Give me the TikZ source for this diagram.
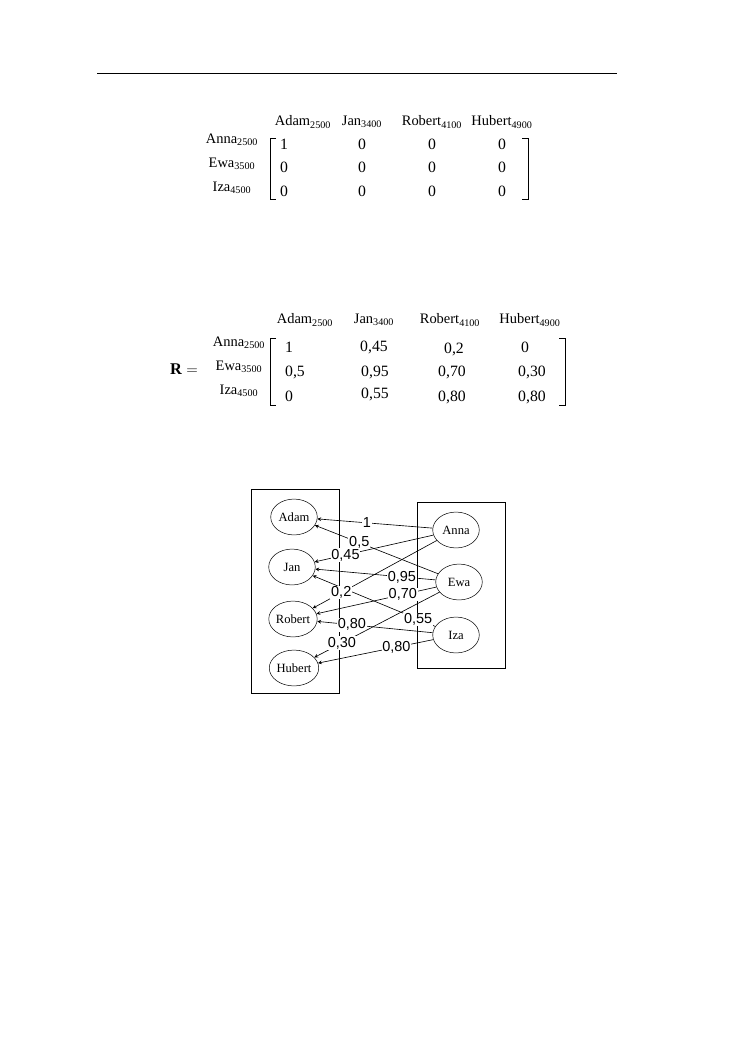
\documentclass[tikz,border=0pt]{standalone}
\usepackage{fontspec}
\setmainfont{Liberation Serif}
\newfontfamily\lblfont{Liberation Sans}
\usetikzlibrary{shapes.geometric,arrows.meta}
\newcommand{\nm}[2]{#1\textsubscript{#2}}
\tikzset{
  mlbl/.style={font=\fontsize{11.5}{13}\selectfont},
  cell/.style={font=\fontsize{12.5}{14}\selectfont},
  person/.style={draw,ellipse,minimum width=37pt,minimum height=28.5pt,inner sep=0pt,font=\fontsize{10}{12}\selectfont},
  edge/.style={{Stealth[length=3pt,width=3pt]}-,line width=0.5pt},
  wlbl/.style={fill=white,inner sep=0.6pt,font=\lblfont\fontsize{11.5}{12}\selectfont}
}
\begin{document}
\begin{tikzpicture}[x=0.7944pt,y=-0.7944pt]
  \useasboundingbox (0,0) rectangle (749,1064);
  \draw[line width=0.8pt] (97,73) -- (617,73);

  % First matrix: column and row labels
  \foreach \x/\n/\s in {303/Adam/2500,362/Jan/3400,432/Robert/4100,502/Hubert/4900}
    \node[mlbl] (ha-\n) at (\x,122) {\nm{\n}{\s}};
  \foreach \y/\n/\s in {140/Anna/2500,164/Ewa/3500,188/Iza/4500}
    \node[mlbl] (va-\n) at (232,\y) {\nm{\n}{\s}};

  % First matrix: cells
  \foreach \x/\y/\v in {
    284/144/1,362/144/0,432/144/0,502/144/0,
    284/167/0,362/167/0,432/167/0,502/167/0,
    284/191/0,362/191/0,432/191/0,502/191/0
  }{
    \node[cell] (a-\x-\y) at (\x,\y) {\v};
  }
  \draw (276,138) -- (270,138) -- (270,199) -- (276,199);
  \draw (522,138) -- (528,138) -- (528,199) -- (522,199);

  % Second matrix: column and row labels
  \foreach \x/\n/\s in {305/Adam/2500,374/Jan/3400,450/Robert/4100,530/Hubert/4900}
    \node[mlbl] (hb-\n) at (\x,320) {\nm{\n}{\s}};
  \foreach \y/\n/\s in {343/Anna/2500,367/Ewa/3500,391/Iza/4500}
    \node[mlbl] (vb-\n) at (239,\y) {\nm{\n}{\s}};
  \node[font=\fontsize{13}{15}\selectfont] (rlbl) at (184,369) {$\mathbf{R}=$};

  % Second matrix: cells
  \foreach \x/\y/\v in {
    289/347/1,374/347/{0,45},454/349/{0,2},525/347/0,
    295/372/{0,5},375/372/{0,95},452/372/{0,70},532/372/{0,30},
    289/396/0,375/394/{0,55},452/397/{0,80},532/397/{0,80}
  }{
    \node[cell] (b-\x-\y) at (\x,\y) {\v};
  }
  \draw (276,338) -- (270,338) -- (270,405) -- (276,405);
  \draw (559,338) -- (565,338) -- (565,405) -- (559,405);

  % Graph: the two groups
  \draw (251,489) rectangle (339,693);
  \draw (417,502) rectangle (505,668);
  \node[person] (adam)   at (294,517) {Adam};
  \node[person] (jan)    at (292,567) {Jan};
  \node[person] (robert) at (293,619) {Robert};
  \node[person] (hubert) at (294,668) {Hubert};
  \node[person] (anna)   at (456,530) {Anna};
  \node[person] (ewa)    at (459,582) {Ewa};
  \node[person] (iza)    at (456,635) {Iza};

  % Graph: weighted links
  \foreach \m/\w/\v/\p in {
    adam/anna/1/0.43, adam/ewa/{0,5}/0.36,
    jan/anna/{0,45}/0.26, jan/ewa/{0,95}/0.72, jan/iza/{0,55}/0.86,
    robert/anna/{0,2}/0.23, robert/ewa/{0,70}/0.72, robert/iza/{0,80}/0.3,
    hubert/ewa/{0,30}/0.22, hubert/iza/{0,80}/0.68
  }{
    \draw[edge] (\m) -- node[wlbl,pos=\p] (l-\m-\w) {\v} (\w);
  }
\end{tikzpicture}
\end{document}
